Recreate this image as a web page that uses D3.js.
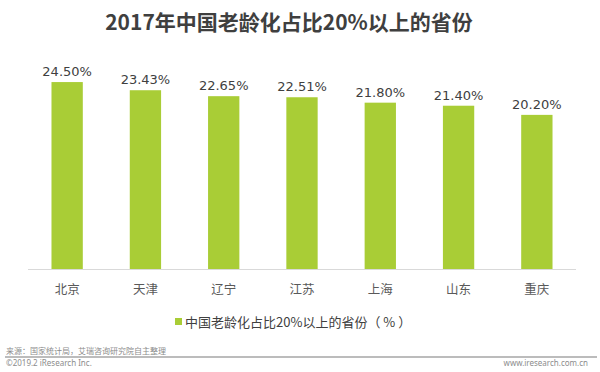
<!DOCTYPE html>
<html>
<head>
<meta charset="utf-8">
<script src="https://cdn.jsdelivr.net/npm/d3@7"></script>
<style>
  html, body { margin: 0; padding: 0; background: #fff; }
  svg { display: block; }
</style>
</head>
<body>
<svg id="chart" width="600" height="372"></svg>
<script>
const title = "2017年中国老龄化占比20%以上的省份";
const categories = ["北京", "天津", "辽宁", "江苏", "上海", "山东", "重庆"];
const values = [24.50, 23.43, 22.65, 22.51, 21.80, 21.40, 20.20];
const seriesName = "中国老龄化占比20%以上的省份（ % ）";
const sourceText = "来源：国家统计局，艾瑞咨询研究院自主整理";
const copyrightText = "©2019.2 iResearch Inc.";
const siteText = "www.iresearch.com.cn";

const cjk = "'Noto Sans CJK SC', 'Noto Sans', sans-serif";
const barColor = "#a9cd36";
const svg = d3.select("#chart");

const x = d3.scaleBand().domain(categories).range([28, 576]).paddingInner(0.6).paddingOuter(0.3);
const y = d3.scaleLinear().domain([0, 30]).range([269, 269 - 30 * 7.63]);

svg.append("text")
  .attr("x", 289).attr("y", 30)
  .attr("text-anchor", "middle")
  .attr("font-family", cjk).attr("font-weight", "bold")
  .attr("font-size", 21).attr("fill", "#3f3f3f")
  .text(title);

svg.append("g").selectAll("rect").data(values).join("rect")
  .attr("x", (d, i) => x(categories[i]))
  .attr("width", x.bandwidth())
  .attr("y", d => y(d))
  .attr("height", d => y(0) - y(d))
  .attr("fill", barColor);

svg.append("g").selectAll("text").data(values).join("text")
  .attr("x", (d, i) => x(categories[i]) + x.bandwidth() / 2)
  .attr("y", d => y(d) - 6)
  .attr("text-anchor", "middle")
  .attr("font-family", "'DejaVu Sans', Verdana, sans-serif")
  .attr("font-size", 13).attr("fill", "#404040")
  .text(d => d.toFixed(2) + "%");

const xAxis = svg.append("g").attr("transform", `translate(0,${y(0)})`)
  .call(d3.axisBottom(x).tickSize(0).tickPadding(16));
xAxis.select(".domain").attr("stroke", "#d9d9d9").attr("d", "M28,0.5H576");
xAxis.selectAll("text")
  .attr("font-family", cjk).attr("font-size", 12.5).attr("fill", "#595959");

// legend
const legend = svg.append("g");
legend.append("rect").attr("x", 175).attr("y", 318).attr("width", 7).attr("height", 7).attr("fill", barColor);
legend.append("text").attr("x", 185).attr("y", 326.5)
  .attr("font-family", cjk).attr("font-size", 13).attr("fill", "#404040")
  .text(seriesName);

// footer
svg.append("text").attr("x", 6).attr("y", 354)
  .attr("font-family", cjk).attr("font-size", 8).attr("fill", "#8c8c8c")
  .text(sourceText);
svg.append("line").attr("x1", 5).attr("x2", 597).attr("y1", 357).attr("y2", 357)
  .attr("stroke", "#a6a6a6").attr("stroke-width", 1.5);
svg.append("text").attr("x", 6).attr("y", 366)
  .attr("font-family", "'Noto Sans', sans-serif").attr("font-size", 8).attr("fill", "#8c8c8c")
  .text(copyrightText);
svg.append("text").attr("x", 588).attr("y", 366).attr("text-anchor", "end")
  .attr("font-family", "'Noto Sans', sans-serif").attr("font-size", 8).attr("fill", "#8c8c8c")
  .text(siteText);
</script>
</body>
</html>
